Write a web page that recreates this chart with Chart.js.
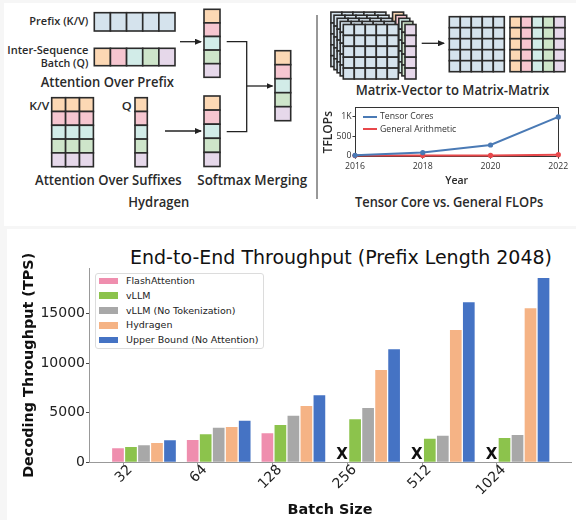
<!DOCTYPE html>
<html>
<head>
<meta charset="utf-8">
<script src="https://cdn.jsdelivr.net/npm/chart.js@4.4.1/dist/chart.umd.min.js"></script>
<style>
  body { margin: 0; width: 576px; height: 520px; background: #f6f6f6; position: relative; overflow: hidden; }
  .panel { position: absolute; background: #fff; }
  .abs { position: absolute; }
  #title { position: absolute; left: 130px; top: 248.4px; width: 400px; text-align: center; white-space: nowrap;
           font: 19px/19px "DejaVu Sans"; color: #111; }
  #legend { position: absolute; left: 95px; top: 273px; width: 169px; height: 76px; box-sizing: border-box;
            border: 1px solid #dcdcdc; border-radius: 3px; background: #fff; }
  #legend .row { position: absolute; left: 0; height: 12px; font: 9.5px/12px "DejaVu Sans"; color: #222; white-space: nowrap; }
  #legend .sw { position: absolute; left: 3px; top: 2.7px; width: 18.5px; height: 6.6px; }
  #legend .tx { position: absolute; left: 30px; top: 0; }
  #flopsLegend .row { position: absolute; font: 8.7px/10px "Open Sans"; color: #333; white-space: nowrap; }
  #flopsLegend .ln { position: absolute; width: 13.7px; height: 2px; }
</style>
</head>
<body>
<div class="panel" style="left:4px;top:3px;width:572px;height:223px"></div>
<svg id="diagram" class="abs" width="576" height="226" style="left:0;top:0">
  <defs>
    <marker id="head" markerWidth="7" markerHeight="6" refX="6" refY="3" orient="auto" markerUnits="userSpaceOnUse">
      <path d="M0,0 L7,3 L0,6 z" fill="#222"/>
    </marker>
  </defs>
</svg>

<div class="panel" style="left:7px;top:229px;width:569px;height:291px"></div>
<div id="title">End-to-End Throughput (Prefix Length 2048)</div>
<div class="abs" style="left:7px;top:229px"><canvas id="tps" width="569" height="291"></canvas></div>
<div id="legend"></div>

<div class="abs" style="left:320px;top:100px;z-index:5"><canvas id="flops" width="256" height="92"></canvas></div>
<div id="flopsLegend" style="position:absolute;left:0;top:0;z-index:6"></div>

<script>
// Throughput chart data (tokens per second)
const batchSizes = ['32', '64', '128', '256', '512', '1024'];
const flashAttention = [1410, 2250, 2930, null, null, null];
const vllm = [1540, 2820, 3760, 4330, 2380, 2450];
const vllmNoTok = [1710, 3490, 4700, 5470, 2680, 2750];
const hydragen = [1945, 3560, 5675, 9300, 13340, 15520];
const upperBound = [2220, 4195, 6755, 11390, 16130, 18580];
const seriesNames = ['FlashAttention', 'vLLM', 'vLLM (No Tokenization)', 'Hydragen', 'Upper Bound (No Attention)'];
const seriesColors = ['#ef8eae', '#8cc34c', '#a8a8a8', '#f5b385', '#4573c4'];
const yTicks = [0, 5000, 10000, 15000];

// FLOPs inset data
const years = [2016, 2018, 2020, 2022];
const tensorCores = [10, 80, 275, 1000];
const generalArithmetic = [2, 5, 8, 25];
const flopsTicks = [0, 500, 1000];
const flopsNames = ['Tensor Cores', 'General Arithmetic'];
const flopsColors = ['#4a7ab5', '#e8484b'];

// ---------- diagram ----------
const NS = 'http://www.w3.org/2000/svg';
const svg = document.getElementById('diagram');
const cellBlue = '#d5e3ed';
const rowColors = ['#fcd8b4', '#f6c6d0', '#d2ece8', '#cee5ca', '#e6d8ea'];

function el(tag, attrs) {
    const e = document.createElementNS(NS, tag);
    for (const k in attrs) e.setAttribute(k, attrs[k]);
    svg.appendChild(e);
    return e;
}

function grid(x, y, cols, rows, cw, ch, fill) {
    for (let r = 0; r < rows; r++) {
        for (let c = 0; c < cols; c++) {
            el('rect', { x: x + c * cw, y: y + r * ch, width: cw, height: ch,
                fill: fill(r, c), stroke: '#2b2b2b', 'stroke-width': 1.6 });
        }
    }
}

function text(str, x, y, size, len, anchor) {
    const t = el('text', { x: x, y: y, 'font-size': size, 'font-family': 'Open Sans', 'font-weight': 600,
        fill: '#2a2a2a', 'text-anchor': anchor || 'start', textLength: len, lengthAdjust: 'spacingAndGlyphs' });
    t.textContent = str;
}

function arrow(x1, y1, x2, y2) {
    el('line', { x1, y1, x2, y2, stroke: '#222', 'stroke-width': 1.3, 'marker-end': 'url(#head)' });
}

const blue = () => cellBlue;
const byRow = r => rowColors[r];
const byCol = (r, c) => rowColors[c];

// Hydragen side
grid(94.3, 12.7, 5, 1, 16.14, 18.3, blue);
grid(94.3, 48.3, 5, 1, 16.14, 17.4, byCol);
grid(204, 9.3, 1, 5, 16, 13.6, byRow);
grid(51.7, 97.7, 3, 5, 13.9, 13.8, byRow);
grid(135, 97.7, 1, 5, 12.3, 13.8, byRow);
grid(204, 96, 1, 5, 16, 14.1, byRow);
grid(275, 50.7, 1, 5, 15.7, 14, byRow);
arrow(180, 41.7, 201, 41.7);
arrow(165, 131, 201, 131);
el('polyline', { points: '226.7,41.7 246.7,41.7 246.7,131.7 226.7,131.7', fill: 'none', stroke: '#222', 'stroke-width': 1.3 });
arrow(246.7, 86, 272.5, 86);

text('Prefix (K/V)', 88.3, 25.3, 11.5, 59, 'end');
text('Inter-Sequence', 88.3, 53.5, 11.5, 81, 'end');
text('Batch (Q)', 88.3, 66.8, 11.5, 47.6, 'end');
text('Attention Over Prefix', 40.7, 86.8, 14.5, 133.3);
text('K/V', 29.3, 110.2, 11.5, 20);
text('Q', 121.7, 110.2, 11.5, 10);
text('Attention Over Suffixes', 35, 184.8, 14.5, 146.7);
text('Softmax Merging', 197.3, 184.8, 14.5, 110);
text('Hydragen', 128.3, 206.5, 14.5, 61);

el('line', { x1: 317, y1: 15, x2: 317, y2: 199, stroke: '#333', 'stroke-width': 1 });

// Matrix-vector stack to matrix-matrix
for (let k = 4; k >= 0; k--) {
    const off = k * 3.1;
    grid(405 - off, 24.5 - off, 1, 5, 11, 10.9, () => rowColors[4 - k]);
    grid(343.3 - off, 24.5 - off, 5, 5, 11, 10.9, blue);
}
arrow(421.7, 43.3, 444, 43.3);
grid(449.3, 16.7, 5, 5, 11, 11, blue);
grid(510, 16.7, 5, 5, 11, 11, byCol);
text('Matrix-Vector to Matrix-Matrix', 355.7, 94.8, 14.5, 193.6);
text('Tensor Core vs. General FLOPs', 355, 207, 14.5, 188.3);

// ---------- FLOPs inset ----------
const flopsLegend = document.getElementById('flopsLegend');
flopsNames.forEach((name, i) => {
    const cy = 116.7 + i * 12.6;
    flopsLegend.innerHTML += `<div class="ln" style="left:363px;top:${cy - 1}px;background:${flopsColors[i]}"></div>` +
        `<div class="row" style="left:380px;top:${cy - 5.5}px">${name}</div>`;
});

const inkFont = { family: 'Open Sans', size: 8.7 };
new Chart(document.getElementById('flops'), {
    type: 'line',
    data: {
        datasets: [tensorCores, generalArithmetic].map((vals, s) => ({
            label: flopsNames[s],
            data: vals.map((v, i) => ({ x: years[i], y: v })),
            borderColor: flopsColors[s],
            backgroundColor: flopsColors[s],
            borderWidth: 2,
            pointRadius: 2.6,
            pointBorderWidth: 0,
            tension: 0,
            clip: false
        }))
    },
    options: {
        responsive: false,
        animation: false,
        layout: { padding: { top: 7.7, right: 17.7, left: 0, bottom: 0 } },
        plugins: { legend: { display: false }, tooltip: { enabled: false } },
        scales: {
            x: {
                type: 'linear', min: 2016, max: 2022, bounds: 'data',
                afterBuildTicks: s => { s.ticks = years.map(v => ({ value: v })); },
                afterFit: s => { s.height = 35.3; },
                ticks: { font: inkFont, color: '#333', padding: 2.5, maxRotation: 0, autoSkip: false, callback: v => String(v) },
                grid: { display: true, drawOnChartArea: false, tickLength: 2, color: '#333' },
                border: { color: '#333', width: 1 },
                title: { display: true, text: 'Year', font: { family: 'Open Sans', size: 10.5, weight: 600 }, color: '#2a2a2a', padding: { top: 0, bottom: 4.5 } }
            },
            y: {
                min: -26, max: 1237, bounds: 'data',
                afterBuildTicks: s => { s.ticks = flopsTicks.map(v => ({ value: v })); },
                afterFit: s => { s.width = 35; },
                ticks: { font: inkFont, color: '#333', padding: 1, autoSkip: false, callback: v => v >= 1000 ? (v / 1000) + 'K' : String(v) },
                grid: { display: true, drawOnChartArea: false, tickLength: 2.5, color: '#333' },
                border: { color: '#333', width: 1 },
                title: { display: true, text: 'TFLOPs', font: { family: 'Open Sans', size: 12, weight: 600 }, color: '#2a2a2a', padding: { top: 1, bottom: 0 } }
            },
            x2: {
                type: 'linear', position: 'top',
                afterFit: s => { s.height = 0; },
                ticks: { display: false }, grid: { display: false, drawTicks: false },
                border: { display: true, color: '#333', width: 1 }
            },
            y2: {
                type: 'linear', position: 'right',
                afterFit: s => { s.width = 0; },
                ticks: { display: false }, grid: { display: false, drawTicks: false },
                border: { display: true, color: '#333', width: 1 }
            }
        }
    }
});

// ---------- throughput chart ----------
const legend = document.getElementById('legend');
seriesNames.forEach((name, i) => {
    const top = 8 + i * 14.8 - 6 - 1;
    legend.innerHTML += `<div class="row" style="top:${top}px"><div class="sw" style="background:${seriesColors[i]}"></div><div class="tx">${name}</div></div>`;
});

// draw an X where FlashAttention has no result
const missingMarks = {
    id: 'missingMarks',
    afterDatasetsDraw(chart) {
        const meta = chart.getDatasetMeta(0);
        const y0 = chart.scales.y.getPixelForValue(0);
        const ctx = chart.ctx;
        ctx.save();
        ctx.font = 'bold 15px "DejaVu Sans"';
        ctx.fillStyle = '#111';
        ctx.textAlign = 'center';
        ctx.textBaseline = 'alphabetic';
        flashAttention.forEach((v, i) => {
            if (v === null) ctx.fillText('X', meta.data[i].x, y0 - 3);
        });
        ctx.restore();
    }
};

const tickShift = -0.277;
const axisFont = { family: 'DejaVu Sans', size: 14 };
const labelFont = { family: 'DejaVu Sans', size: 14.4, weight: 'bold' };
const allSeries = [flashAttention, vllm, vllmNoTok, hydragen, upperBound];

new Chart(document.getElementById('tps'), {
    type: 'bar',
    data: {
        datasets: allSeries.map((vals, s) => ({
            label: seriesNames[s],
            data: vals.map((v, i) => ({ x: i, y: v })),
            backgroundColor: seriesColors[s],
            categoryPercentage: 0.87,
            barPercentage: 0.9
        }))
    },
    options: {
        responsive: false,
        animation: false,
        layout: { padding: { top: 39.3, right: 5, left: 0, bottom: 0 } },
        plugins: { legend: { display: false }, tooltip: { enabled: false } },
        scales: {
            x: {
                type: 'linear', min: -0.736, max: 5.716, offset: false, bounds: 'data',
                afterBuildTicks: s => { s.ticks = batchSizes.map((b, i) => ({ value: i + tickShift })); },
                afterFit: s => { s.height = 57.7; },
                ticks: { autoSkip: false, minRotation: 45, maxRotation: 45, font: axisFont, color: '#222',
                         padding: -4, labelOffset: 7, callback: (v, i) => batchSizes[i] },
                grid: { display: true, offset: false, drawOnChartArea: false, tickLength: 3.5, color: '#999' },
                border: { display: true, color: '#999', width: 1 },
                title: { display: true, text: 'Batch Size', font: labelFont, color: '#111', padding: { top: 0, bottom: 1 } }
            },
            y: {
                min: 0, max: 19560, bounds: 'data',
                afterBuildTicks: s => { s.ticks = yTicks.map(v => ({ value: v })); },
                afterFit: s => { s.width = 82; },
                ticks: { font: axisFont, color: '#222', padding: 1, callback: v => String(v) },
                grid: { display: true, drawOnChartArea: false, tickLength: 3, color: '#444' },
                border: { display: true, color: '#999', width: 1 },
                title: { display: true, text: 'Decoding Throughput (TPS)', font: labelFont, color: '#111', padding: { top: 14, bottom: 0 } }
            }
        }
    },
    plugins: [missingMarks]
});
</script>
</body>
</html>
